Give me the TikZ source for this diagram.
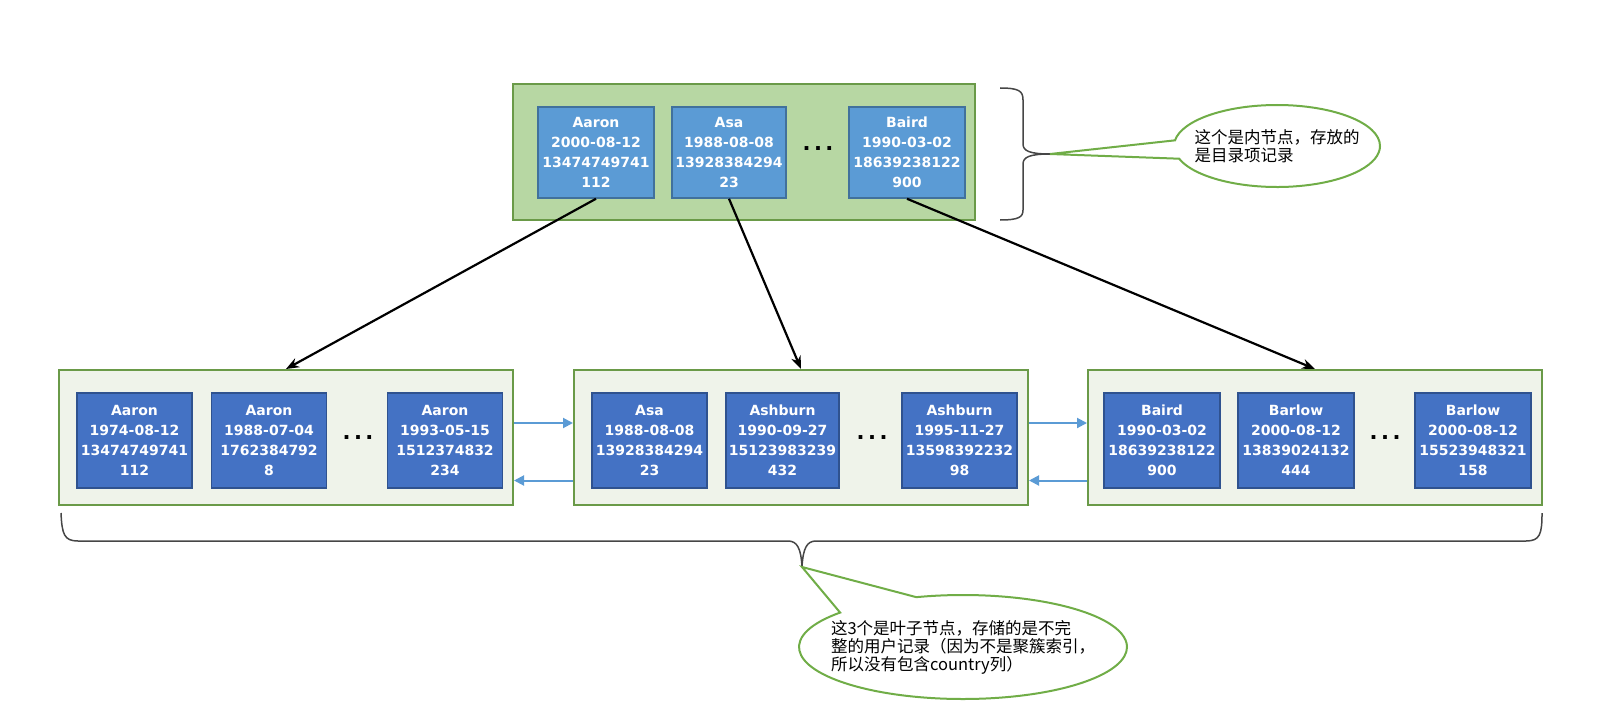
\documentclass[tikz,border=0pt]{standalone}
\usepackage{fontspec}
\setmainfont{DejaVu Sans}
\newfontfamily\cjkfont{Noto Sans CJK SC}
\usepackage{tikz}
\usetikzlibrary{arrows.meta,shapes.callouts}

\definecolor{pagegreen}{RGB}{183,215,163}
\definecolor{leafgreen}{RGB}{239,243,234}
\definecolor{edgegreen}{RGB}{106,154,72}
\definecolor{keyblue}{RGB}{91,155,213}
\definecolor{keyedge}{RGB}{65,113,156}
\definecolor{recblue}{RGB}{68,114,196}
\definecolor{recedge}{RGB}{47,82,143}
\definecolor{linkblue}{RGB}{91,155,213}
\definecolor{notegreen}{RGB}{112,173,71}
\definecolor{bracegray}{RGB}{70,70,70}

\begin{document}
\begin{tikzpicture}[x=1pt,y=-1pt,>=Stealth]
    \tikzset{
        pagebox/.style={draw=edgegreen,line width=2pt,inner sep=0pt,
            minimum width=454pt,minimum height=135pt,fill=leafgreen},
        keybox/.style={draw=keyedge,fill=keyblue,line width=1.5pt,text=white,
            font=\bfseries\fontsize{14}{20}\selectfont,align=center,
            minimum width=116pt,minimum height=91pt,inner sep=0pt},
        recbox/.style={keybox,draw=recedge,fill=recblue,
            minimum width=115pt,minimum height=95pt},
        moredots/.style={font=\bfseries\fontsize{21}{20}\selectfont,inner sep=0pt},
        child/.style={-{Stealth[length=13pt,width=10pt]},line width=2.2pt},
        sibling/.style={-{Triangle[length=10pt,width=10pt]},line width=2pt,draw=linkblue},
        bubble/.style={ellipse callout,draw=notegreen,line width=2pt,fill=white,
            callout pointer arc=30,inner sep=0pt},
        notetext/.style={font=\cjkfont\fontsize{16.5}{18}\selectfont,align=left,
            text=black}
    }
    \useasboundingbox (0,0) rectangle (1602,706);

    % internal page
    \node[pagebox,fill=pagegreen,minimum width=462pt,minimum height=136pt] (root) at (744,152) {};
    \node[keybox] (kAaron) at (596,152.5) {Aaron\\2000-08-12\\13474749741\\112};
    \node[keybox,minimum width=114pt] (kAsa) at (729,152.5) {Asa\\1988-08-08\\13928384294\\23};
    \node[moredots] (kdots) at (818,149) {.\,.\,.};
    \node[keybox] (kBaird) at (907,152.5) {Baird\\1990-03-02\\18639238122\\900};

    % leaf pages
    \node[pagebox] (leafA) at (286,437.5) {};
    \node[pagebox] (leafB) at (801,437.5) {};
    \node[pagebox] (leafC) at (1315,437.5) {};

    \node[recbox] (rA1) at (134.5,440.5) {Aaron\\1974-08-12\\13474749741\\112};
    \node[recbox] (rA2) at (269,440.5) {Aaron\\1988-07-04\\1762384792\\8};
    \node[moredots] (rAdots) at (358,438) {.\,.\,.};
    \node[recbox] (rA3) at (445,440.5) {Aaron\\1993-05-15\\1512374832\\234};

    \node[recbox] (rB1) at (649.5,440.5) {Asa\\1988-08-08\\13928384294\\23};
    \node[recbox,minimum width=113pt] (rB2) at (782.5,440.5) {Ashburn\\1990-09-27\\15123983239\\432};
    \node[moredots] (rBdots) at (872,438) {.\,.\,.};
    \node[recbox] (rB3) at (959.5,440.5) {Ashburn\\1995-11-27\\13598392232\\98};

    \node[recbox,minimum width=116pt] (rC1) at (1162,440.5) {Baird\\1990-03-02\\18639238122\\900};
    \node[recbox,minimum width=116pt] (rC2) at (1296,440.5) {Barlow\\2000-08-12\\13839024132\\444};
    \node[moredots] (rCdots) at (1385,438) {.\,.\,.};
    \node[recbox,minimum width=116pt] (rC3) at (1473,440.5) {Barlow\\2000-08-12\\15523948321\\158};

    % child pointers
    \draw[child] (kAaron.south) -- (leafA.north);
    \draw[child] (kAsa.south) -- (leafB.north);
    \draw[child] (kBaird.south) -- (leafC.north);

    % doubly linked leaves
    \draw[sibling] ([yshift=14.5pt]leafA.east) -- ([yshift=14.5pt]leafB.west);
    \draw[sibling] ([yshift=-43pt]leafB.west) -- ([yshift=-43pt]leafA.east);
    \draw[sibling] ([yshift=14.5pt]leafB.east) -- ([yshift=14.5pt]leafC.west);
    \draw[sibling] ([yshift=-43pt]leafC.west) -- ([yshift=-43pt]leafB.east);

    % braces
    \coordinate (roottip) at (1050,154);
    \coordinate (leaftip) at (802,567);
    \draw[bracegray,line width=1.5pt]
        (1000,88) .. controls (1019,88) and (1023,91) .. (1023,100)
        -- (1023,144) .. controls (1023,151) and (1030,154) .. (roottip)
        .. controls (1030,154) and (1023,157) .. (1023,164)
        -- (1023,210) .. controls (1023,217) and (1019,220) .. (1000,220);
    \draw[bracegray,line width=1.5pt]
        (61,513) .. controls (62,534) and (64,541) .. (78,541)
        -- (788,541) .. controls (797,541) and (801,548) .. (leaftip)
        .. controls (803,548) and (807,541) .. (816,541)
        -- (1526,541) .. controls (1540,541) and (1542,534) .. (1542,513);

    % notes
    \node[bubble,minimum width=206pt,minimum height=82pt,callout pointer arc=26,
        callout absolute pointer={(roottip)}] (rootnote) at (1277,146) {};
    \node[notetext] (rootnotetext) at (rootnote.center)
        {这个是内节点，存放的\\是目录项记录};
    \node[bubble,minimum width=328pt,minimum height=104pt,callout pointer arc=32,
        callout absolute pointer={(leaftip)}] (leafnote) at (963,647) {};
    \node[notetext] (leafnotetext) at (leafnote.center)
        {这3个是叶子节点，存储的是不完\\整的用户记录（因为不是聚簇索引，\\所以没有包含country列）};
\end{tikzpicture}
\end{document}
